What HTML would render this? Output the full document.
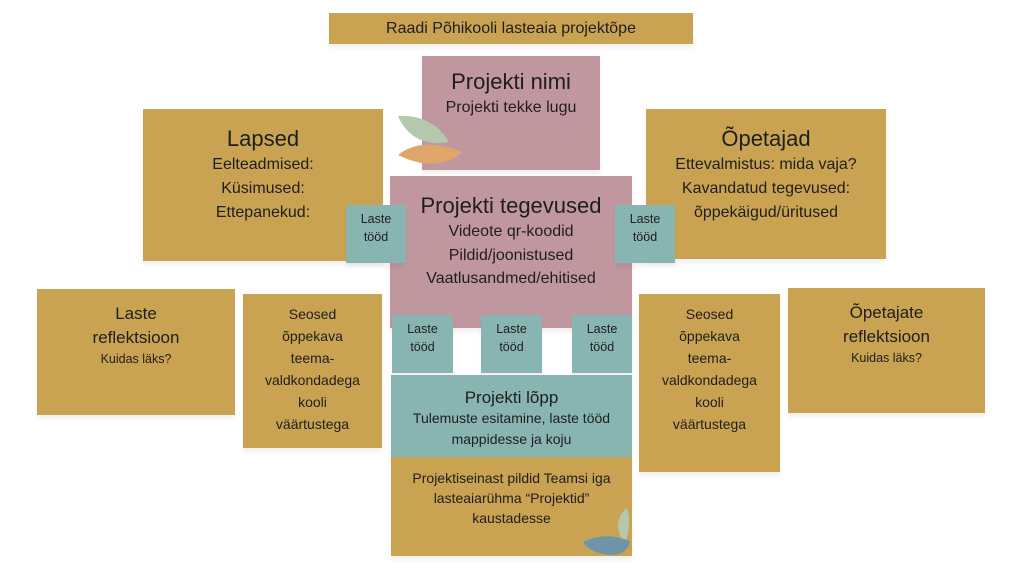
<!DOCTYPE html>
<html><head><meta charset="utf-8"><style>
body{margin:0;width:1024px;height:576px;background:#fff;position:relative;overflow:hidden;font-family:"Liberation Sans",sans-serif;color:#1e1e1e}
.b{position:absolute;box-sizing:border-box;text-align:center;box-shadow:0 4px 4px rgba(0,0,0,0.06)}
.g{background:#c9a351}.p{background:#c0979f}.t{background:#88b5b1}
.h{font-size:22px;line-height:28px}
.s{font-size:16px;line-height:23.5px}
.x{font-size:12.5px;line-height:18px}
</style></head><body>
<div class="b g" style="left:329px;top:13px;width:364px;height:31px;font-size:16px;line-height:31px">Raadi Põhikooli lasteaia projektõpe</div>
<div class="b p" style="left:422px;top:56px;width:178px;height:114px;padding-top:12px"><div class="h">Projekti nimi</div><div class="s" style="margin-top:0px">Projekti tekke lugu</div></div>
<div class="b g" style="left:143px;top:109px;width:240px;height:152px;padding-top:16px"><div class="h">Lapsed</div><div class="s" style="line-height:24px">Eelteadmised:<br>Küsimused:<br>Ettepanekud:</div></div>
<div class="b g" style="left:646px;top:109px;width:240px;height:150px;padding-top:16px"><div class="h">Õpetajad</div><div class="s" style="line-height:24px">Ettevalmistus: mida vaja?<br>Kavandatud tegevused:<br>õppekäigud/üritused</div></div>
<svg style="position:absolute;left:392px;top:112px" width="75" height="58"><path d="M6 4 Q40 2 57 30 Q20 36 6 4Z" fill="#b4c9ab"/><path d="M6 43 Q30 24 70 40 Q45 62 6 43Z" fill="#dea66b"/></svg>
<div class="b p" style="left:390px;top:176px;width:242px;height:152px;padding-top:16px"><div class="h">Projekti tegevused</div><div class="s">Videote qr-koodid<br>Pildid/joonistused<br>Vaatlusandmed/ehitised</div></div>
<div class="b t x" style="left:346px;top:205px;width:60px;height:58px;padding-top:5px">Laste<br>tööd</div>
<div class="b t x" style="left:615px;top:205px;width:60px;height:58px;padding-top:5px">Laste<br>tööd</div>
<div class="b t x" style="left:392px;top:315px;width:61px;height:58px;padding-top:5px">Laste<br>tööd</div>
<div class="b t x" style="left:481px;top:315px;width:61px;height:58px;padding-top:5px">Laste<br>tööd</div>
<div class="b t x" style="left:572px;top:315px;width:60px;height:58px;padding-top:5px">Laste<br>tööd</div>
<div class="b t" style="left:391px;top:375px;width:241px;height:82px;padding-top:12px"><div style="font-size:17px;line-height:21px">Projekti lõpp</div><div style="font-size:14px;line-height:21px">Tulemuste esitamine, laste tööd<br>mappidesse ja koju</div></div>
<div class="b g" style="left:391px;top:457px;width:241px;height:99px;padding-top:11px;font-size:14px;line-height:20px">Projektiseinast pildid Teamsi iga<br>lasteaiarühma “Projektid”<br>kaustadesse</div>
<svg style="position:absolute;left:580px;top:505px" width="52" height="52"><path d="M47 2 Q30 20 45 38 Q52 20 47 2Z" fill="#b4c9ab"/><path d="M3 37 Q25 26 50 36 Q48 50 30 50 Q10 48 3 37Z" fill="#6e94a8"/></svg>
<div class="b g" style="left:37px;top:289px;width:198px;height:126px;padding-top:13px"><div style="font-size:17px;line-height:24px">Laste<br>reflektsioon</div><div class="x">Kuidas läks?</div></div>
<div class="b g" style="left:243px;top:294px;width:139px;height:154px;padding-top:9px;font-size:14px;line-height:22px">Seosed<br>õppekava<br>teema-<br>valdkondadega<br>kooli<br>väärtustega</div>
<div class="b g" style="left:639px;top:294px;width:141px;height:178px;padding-top:9px;font-size:14px;line-height:22px">Seosed<br>õppekava<br>teema-<br>valdkondadega<br>kooli<br>väärtustega</div>
<div class="b g" style="left:788px;top:288px;width:197px;height:125px;padding-top:13px"><div style="font-size:17px;line-height:24px">Õpetajate<br>reflektsioon</div><div class="x">Kuidas läks?</div></div>
</body></html>
